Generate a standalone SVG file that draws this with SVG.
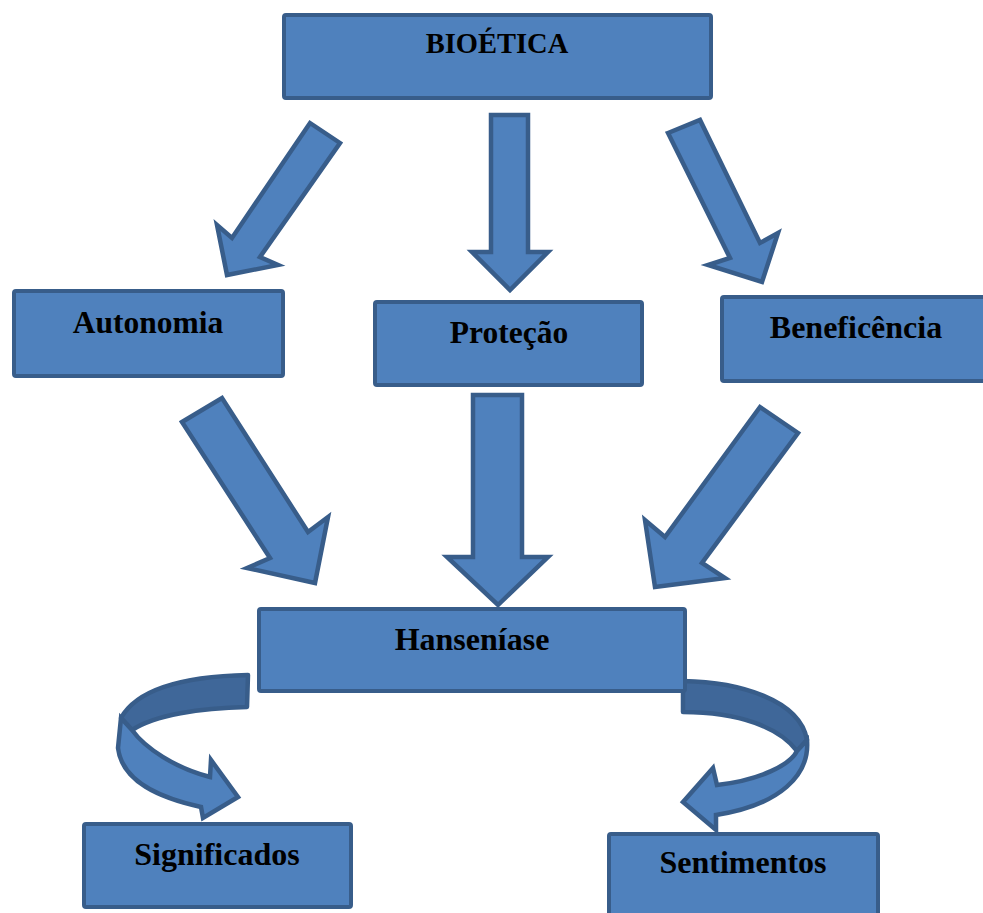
<svg xmlns="http://www.w3.org/2000/svg" width="983" height="913" viewBox="0 0 983 913">
<style>
.box{fill:#4F81BD;stroke:#385D8A;stroke-width:4;}
.arr{fill:#4F81BD;stroke:#385D8A;stroke-width:4.5;stroke-linejoin:miter;}
.back{fill:#3F6799;stroke:#385D8A;stroke-width:4.5;stroke-linejoin:round;}
.lbl{font-family:"Liberation Serif","Times New Roman",serif;font-weight:bold;fill:#000;text-anchor:middle;}
</style>
<rect width="983" height="913" fill="#fff"/>
<g id="connectors">
<polygon class="arr" points="310,123 340,143 260,257 278,265 227,275 217,225 232,238"/>
<polygon class="arr" points="491,115 528,115 528,252 548,252 510,290 472,252 491,252"/>
<polygon class="arr" points="668,133 700,120 760,243 778,233 762,282 708,265 730,258"/>
<polygon class="arr" points="182,422 222,398 308,532 328,517 315,583 247,568 270,558"/>
<polygon class="arr" points="473,395 522,395 522,557 548,557 498,605 447,557 473,557"/>
<polygon class="arr" points="760,407 798,433 702,563 725,578 655,587 645,520 665,537"/>
<g id="curved-left">
<path class="back" d="M248,675 C200,676 140,684 121,718 L132,730 C155,715 200,708 247,707 Z"/>
<path class="arr" d="M121,718 L132,730 C145,748 175,768 210,777 L211,760 L238,797 L203,818 L201,807 C160,798 122,782 118,748 Z"/>
</g>
<g id="curved-right">
<path class="back" d="M683,681 C740,682 800,700 807,740 L797,751 C780,728 740,712 683,712 Z"/>
<path class="arr" d="M807,740 C810,775 780,805 716,815 L716,830 L683,802 L713,768 L717,785 C760,780 790,765 797,751 Z"/>
</g>
</g>
<g id="bioetica"><rect class="box" x="284" y="15" width="427" height="83" rx="2"/><text class="lbl" x="497" y="53" font-size="28.5">BIOÉTICA</text></g>
<g id="autonomia"><rect class="box" x="14" y="291" width="269" height="85" rx="2"/><text class="lbl" x="148" y="333" font-size="31.5">Autonomia</text></g>
<g id="protecao"><rect class="box" x="375" y="302" width="267" height="83" rx="2"/><text class="lbl" x="509" y="343" font-size="31.5">Proteção</text></g>
<g id="beneficencia"><rect class="box" x="722" y="297" width="270" height="84" rx="2"/><text class="lbl" x="856" y="338" font-size="32">Beneficência</text></g>
<g id="hanseniase"><rect class="box" x="259" y="609" width="426" height="82" rx="2"/><text class="lbl" x="472" y="650" font-size="32">Hanseníase</text></g>
<g id="significados"><rect class="box" x="84" y="824" width="267" height="83" rx="2"/><text class="lbl" x="217" y="865" font-size="32">Significados</text></g>
<g id="sentimentos"><rect class="box" x="609" y="834" width="269" height="85" rx="2"/><text class="lbl" x="743" y="873" font-size="32">Sentimentos</text></g>
</svg>
